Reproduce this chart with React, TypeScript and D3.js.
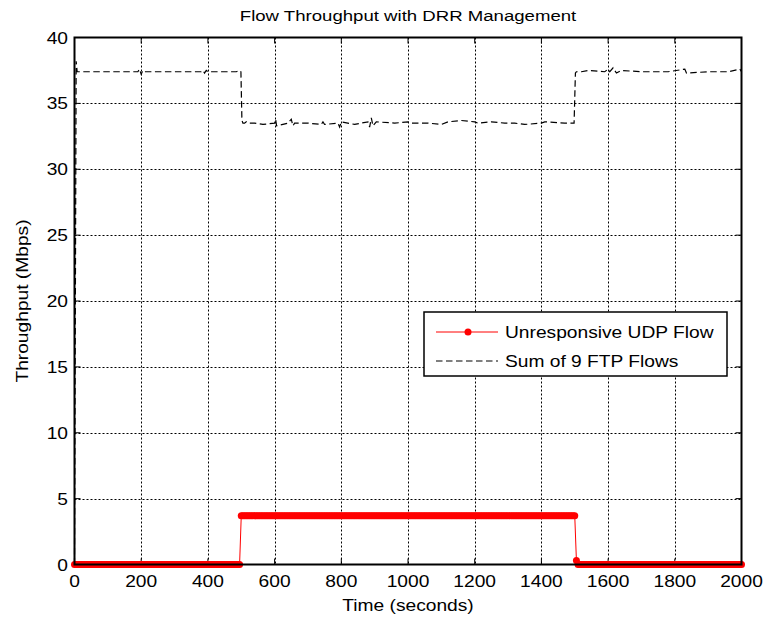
import React from "react";
import * as d3 from "d3";

// ---- Data ----
const xTicks = [0, 200, 400, 600, 800, 1000, 1200, 1400, 1600, 1800, 2000];
const yTicks = [0, 5, 10, 15, 20, 25, 30, 35, 40];

// Sum of 9 FTP flows: breakpoints (time s, throughput Mbps)
const ftpTime = [0, 5, 8, 190, 195, 200, 205, 210, 380, 385, 390, 395, 400, 470, 485, 495, 499, 502, 505, 510, 515, 520, 540, 565, 600, 603, 606, 640, 650, 655, 660, 700, 740, 745, 750, 790, 795, 800, 840, 880, 885, 890, 895, 905, 960, 1000, 1010, 1060, 1100, 1120, 1160, 1200, 1210, 1250, 1290, 1320, 1350, 1400, 1410, 1470, 1498, 1502, 1505, 1520, 1540, 1590, 1600, 1605, 1615, 1625, 1640, 1700, 1780, 1830, 1835, 1900, 1960, 1995, 2000];
const ftpValue = [0, 38.2, 37.4, 37.4, 37.6, 37.2, 37.5, 37.4, 37.4, 37.5, 37.3, 37.5, 37.4, 37.4, 37.4, 37.5, 37.4, 33.7, 33.5, 33.5, 33.6, 33.5, 33.5, 33.4, 33.5, 33.8, 33.3, 33.5, 33.8, 33.3, 33.5, 33.5, 33.4, 33.6, 33.4, 33.5, 33.2, 33.6, 33.4, 33.6, 33.2, 33.9, 33.3, 33.6, 33.5, 33.6, 33.5, 33.5, 33.4, 33.6, 33.7, 33.6, 33.5, 33.6, 33.5, 33.5, 33.4, 33.5, 33.6, 33.5, 33.5, 37.3, 37.4, 37.4, 37.5, 37.4, 37.6, 37.4, 37.7, 37.3, 37.5, 37.4, 37.4, 37.6, 37.3, 37.4, 37.4, 37.6, 37.4];

// Unresponsive UDP flow: sampled every 5 s, piecewise constant
const udpSegStart = [0, 500, 1505, 1510];
const udpSegEnd = [495, 1500, 1505, 2000];
const udpSegValue = [0, 3.7, 0.3, 0];
const udpStep = 5;

const title = "Flow Throughput with DRR Management";
const xLabel = "Time (seconds)";
const yLabel = "Throughput (Mbps)";
const legendLabels = ["Unresponsive UDP Flow", "Sum of 9 FTP Flows"];

const SX = 1.2;

function T({ x, y, anchor = "start", size = 16, rotate = 0, children }: any) {
  return (
    <text
      transform={`translate(${x},${y}) rotate(${rotate}) scale(${SX},1)`}
      textAnchor={anchor}
      fontSize={size}
      fill="#000"
    >
      {children}
    </text>
  );
}

export default function App() {
  const W = 765, H = 623;
  const left = 74.5, right = 741.5, top = 37.5, bottom = 564.5;
  const x = d3.scaleLinear().domain([0, 2000]).range([left, right]);
  const y = d3.scaleLinear().domain([0, 40]).range([bottom, top]);

  const udp: [number, number][] = [];
  udpSegStart.forEach((s, i) => {
    for (let t = s; t <= udpSegEnd[i]; t += udpStep) udp.push([t, udpSegValue[i]]);
  });
  const ftp: [number, number][] = ftpTime.map((t, i) => [t, ftpValue[i]]);

  const line = d3.line<[number, number]>().x(d => x(d[0])).y(d => y(d[1]));
  const font = "Arial, 'Liberation Sans', Helvetica, sans-serif";
  const tl = 6;

  return (
    <svg width={W} height={H} style={{ position: "absolute", left: 0, top: 0, background: "#fff" }} fontFamily={font}>
      <rect x={0} y={0} width={W} height={H} fill="#fff" />
      {/* grid */}
      {xTicks.slice(1, -1).map(t => (
        <line key={"gx" + t} x1={Math.round(x(t)) + 0.5} x2={Math.round(x(t)) + 0.5} y1={top} y2={bottom} stroke="#000" strokeWidth={1} strokeDasharray="2,2" />
      ))}
      {yTicks.slice(1, -1).map(t => (
        <line key={"gy" + t} x1={left} x2={right} y1={Math.round(y(t)) + 0.5} y2={Math.round(y(t)) + 0.5} stroke="#000" strokeWidth={1} strokeDasharray="2,2" />
      ))}
      {/* ticks */}
      {xTicks.map(t => (
        <g key={"tx" + t}>
          <line x1={x(t)} x2={x(t)} y1={bottom} y2={bottom - tl} stroke="#000" />
          <line x1={x(t)} x2={x(t)} y1={top} y2={top + tl} stroke="#000" />
          <T x={x(t)} y={587} anchor="middle">{t}</T>
        </g>
      ))}
      {yTicks.map(t => (
        <g key={"ty" + t}>
          <line x1={left} x2={left + tl} y1={y(t)} y2={y(t)} stroke="#000" />
          <line x1={right} x2={right - tl} y1={y(t)} y2={y(t)} stroke="#000" />
          <T x={68} y={y(t) + 6} anchor="end">{t}</T>
        </g>
      ))}
      {/* FTP line */}
      <path d={line(ftp) || ""} fill="none" stroke="#000" strokeWidth={1.2} strokeDasharray="6.5,3.5" />
      {/* UDP line */}
      <path d={line(udp) || ""} fill="none" stroke="#ff0000" strokeWidth={1} />
      {udp.map((d, i) => (
        <circle key={"m" + i} cx={x(d[0])} cy={y(d[1])} r={3.5} fill="#ff0000" />
      ))}
      {/* axes box */}
      <rect x={left} y={top} width={right - left} height={bottom - top} fill="none" stroke="#000" strokeWidth={2} />
      {/* legend */}
      <rect x={424} y={312} width={303} height={64} fill="#fff" stroke="#000" strokeWidth={1.5} />
      <line x1={436} x2={498} y1={332} y2={332} stroke="#ff0000" strokeWidth={1} />
      <circle cx={468} cy={332} r={3.5} fill="#ff0000" />
      <T x={505} y={338}>{legendLabels[0]}</T>
      <line x1={436} x2={498} y1={361} y2={361} stroke="#000" strokeWidth={1.2} strokeDasharray="6.5,3.5" />
      <T x={505} y={367}>{legendLabels[1]}</T>
      {/* titles */}
      <T x={408} y={21} anchor="middle" size={15.5}>{title}</T>
      <T x={408} y={611} anchor="middle">{xLabel}</T>
      <T x={28} y={301} anchor="middle" rotate={-90}>{yLabel}</T>
    </svg>
  );
}
